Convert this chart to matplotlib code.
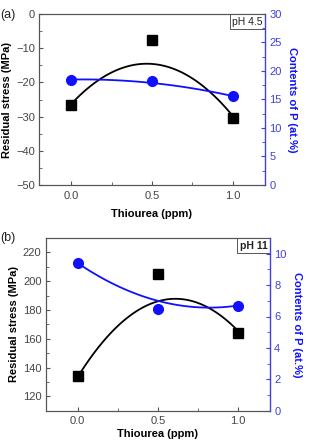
import numpy as np
import matplotlib
matplotlib.use("Agg")
import matplotlib.pyplot as plt
from matplotlib.ticker import MultipleLocator

plt.rcParams['font.family'] = ['Liberation Sans', 'DejaVu Sans']

thiourea = [0.0, 0.5, 1.0]

# panel (a) pH 4.5
stress_a = [-26.5, -7.5, -30.3]
p_a = [18.5, 18.2, 15.6]
stress_fit_a = [-26.3, -14.6, -29.8]   # fitted curve values at thiourea points
p_fit_a = [18.5, 17.9, 15.6]

# panel (b) pH 11
stress_b = [134, 205, 164]
p_b = [9.4, 6.5, 6.7]
stress_fit_b = [133.5, 186.0, 165.5]
p_fit_b = [9.4, 7.0, 6.7]

GRAY = '#555555'
BLUE = '#1010ff'
LBLUE = '#4040e0'


def quad_curve(xs, ys, n=100):
    c = np.polyfit(xs, ys, 2)
    xx = np.linspace(min(xs), max(xs), n)
    return xx, np.polyval(c, xx)


fig = plt.figure(figsize=(3.10, 4.45), dpi=100)


def panel(rect, stress, p, sfit, pfit, ylim_l, ymaj_l, ymin_l, ylim_r, ymaj_r, ymin_r,
          tag, ph, ph_bold, tag_y, xlabelpad):
    ax = fig.add_axes(rect)
    ax2 = ax.twinx()
    xx, yy = quad_curve(thiourea, sfit)
    ax.plot(xx, yy, color='black', lw=1.3, zorder=2)
    ax.plot(thiourea, stress, 's', color='black', ms=6.5, zorder=3)
    xx2, yy2 = quad_curve(thiourea, pfit)
    ax2.plot(xx2, yy2, color=BLUE, lw=1.3, zorder=2)
    ax2.plot(thiourea, p, 'o', color=BLUE, ms=7, zorder=3)

    ax.set_xlim(-0.2, 1.2)
    ax.set_ylim(*ylim_l)
    ax2.set_ylim(*ylim_r)
    ax.xaxis.set_major_locator(MultipleLocator(0.5))
    ax.xaxis.set_minor_locator(MultipleLocator(0.25))
    ax.yaxis.set_major_locator(MultipleLocator(ymaj_l))
    ax.yaxis.set_minor_locator(MultipleLocator(ymin_l))
    ax2.yaxis.set_major_locator(MultipleLocator(ymaj_r))
    ax2.yaxis.set_minor_locator(MultipleLocator(ymin_r))

    for s in ['left', 'top', 'bottom']:
        ax.spines[s].set_color(GRAY)
        ax2.spines[s].set_color(GRAY)
    ax.spines['right'].set_visible(False)
    ax2.spines['right'].set_color(LBLUE)
    ax2.spines['right'].set_linewidth(1.0)

    ax.tick_params(axis='both', which='both', direction='in', colors=GRAY,
                   labelsize=8, labelcolor='#444444', top=False)
    ax.tick_params(axis='both', which='major', length=3)
    ax.tick_params(axis='both', which='minor', length=2)
    ax.tick_params(axis='x', which='both', pad=4)
    ax.tick_params(axis='y', which='both', pad=3)
    ax2.tick_params(axis='y', which='both', direction='in', colors=LBLUE,
                    labelsize=8, labelcolor=LBLUE, pad=3)
    ax2.tick_params(axis='y', which='major', length=3)
    ax2.tick_params(axis='y', which='minor', length=2)

    ax.set_xlabel('Thiourea (ppm)', fontsize=8, fontweight='bold', labelpad=xlabelpad)
    ax.set_ylabel('Residual stress (MPa)', fontsize=8, fontweight='bold', labelpad=3)
    ax2.set_ylabel('Contents of P (at.%)', fontsize=8, fontweight='bold',
                   color=BLUE, rotation=270, labelpad=11)

    ax.text(0.99, 0.985, ph, transform=ax.transAxes, ha='right', va='top',
            fontsize=7.5, fontweight='bold' if ph_bold else 'normal', color='#222222',
            bbox=dict(boxstyle='square,pad=0.25', fc='white', ec=GRAY, lw=0.7), zorder=5)
    fig.text(0.0, tag_y, tag, fontsize=9, color='#222222', ha='left', va='center')
    return ax, ax2


# rect in figure fraction: [left, bottom, width, height]
W, H = 310, 445
panel([39 / W, 1 - 185 / H, 226 / W, 171 / H], stress_a, p_a, stress_fit_a, p_fit_a,
      (-50, 0), 10, 5, (0, 30), 5, 2.5, '(a)', 'pH 4.5', False, 1 - 15 / H, 6)
panel([45.7 / W, 1 - 410.7 / H, 224.3 / W, 172.7 / H], stress_b, p_b, stress_fit_b, p_fit_b,
      (110, 230), 20, 10, (0, 11), 2, 1, '(b)', 'pH 11', True, 1 - 238 / H, 2)

fig.savefig('out.png', dpi=100)
